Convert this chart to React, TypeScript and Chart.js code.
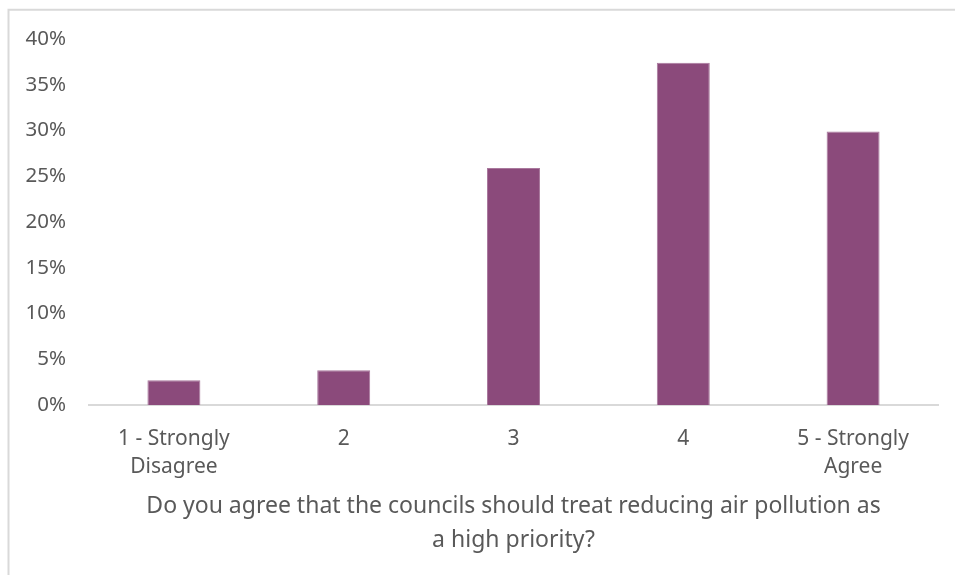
import React, { useEffect, useRef } from "react";
import { Chart, registerables } from "chart.js";

Chart.register(...registerables);

const categories: string[][] = [
  ["1 - Strongly", "Disagree"],
  ["2"],
  ["3"],
  ["4"],
  ["5 - Strongly", "Agree"],
];
const shares: number[] = [0.027, 0.038, 0.259, 0.374, 0.299];
const yMin = 0;
const yMax = 0.4;
const yStep = 0.05;
const axisTitle: string[] = [
  "Do you agree that the councils should treat reducing air pollution as",
  "a high priority?",
];

const TEXT = "#595959";
const FONT = "'Noto Sans', 'DejaVu Sans', sans-serif";

const frame = {
  id: "frame",
  beforeDraw(chart: any) {
    const ctx = chart.ctx;
    ctx.save();
    ctx.fillStyle = "#ffffff";
    ctx.fillRect(0, 0, chart.width, chart.height);
    ctx.strokeStyle = "#d9d9d9";
    ctx.lineWidth = 2;
    ctx.beginPath();
    ctx.moveTo(8.5, chart.height);
    ctx.lineTo(8.5, 9.7);
    ctx.lineTo(chart.width, 9.7);
    ctx.stroke();
    ctx.restore();
  },
};

export default function App() {
  const ref = useRef<HTMLCanvasElement | null>(null);
  useEffect(() => {
    if (!ref.current) return;
    const chart = new Chart(ref.current, {
      type: "bar",
      data: {
        labels: categories,
        datasets: [
          {
            data: shares,
            backgroundColor: "#8b4a7b",
            borderColor: "#a9789d",
            borderWidth: { top: 1, left: 1, right: 1, bottom: 0 },
            categoryPercentage: 1,
            barPercentage: 0.312,
          },
        ],
      },
      options: {
        animation: false,
        responsive: false,
        maintainAspectRatio: false,
        layout: { padding: { top: 39, right: 17, bottom: 0, left: 0 } },
        plugins: {
          legend: { display: false },
          tooltip: { enabled: false },
          title: { display: false },
        },
        scales: {
          x: {
            grid: { display: false, drawTicks: false },
            border: { display: true, color: "#d9d9d9", width: 2 },
            ticks: {
              color: TEXT,
              font: { family: FONT, size: 21, lineHeight: 28.5 / 21 },
              padding: 19.5,
              maxRotation: 0,
              autoSkip: false,
            },
            title: {
              display: true,
              text: axisTitle,
              color: TEXT,
              font: { family: FONT, size: 23, lineHeight: 34 / 23 },
              padding: { top: 0, bottom: 18 },
            },
            afterFit: (s: any) => {
              s.height = 170;
            },
          },
          y: {
            min: yMin,
            max: yMax,
            grid: { display: false, drawTicks: false },
            border: { display: false },
            ticks: {
              stepSize: yStep,
              color: TEXT,
              font: { family: FONT, size: 20.5 },
              padding: 23,
              callback: (v: any) => Math.round(Number(v) * 100) + "%",
            },
            afterFit: (s: any) => {
              s.width = 89;
            },
          },
        },
      },
      plugins: [frame],
    });
    return () => chart.destroy();
  }, []);
  return (
    <div style={{ position: "fixed", left: 0, top: 0, width: 955, height: 575 }}>
      <canvas ref={ref} width={955} height={575} style={{ display: "block" }} />
    </div>
  );
}
